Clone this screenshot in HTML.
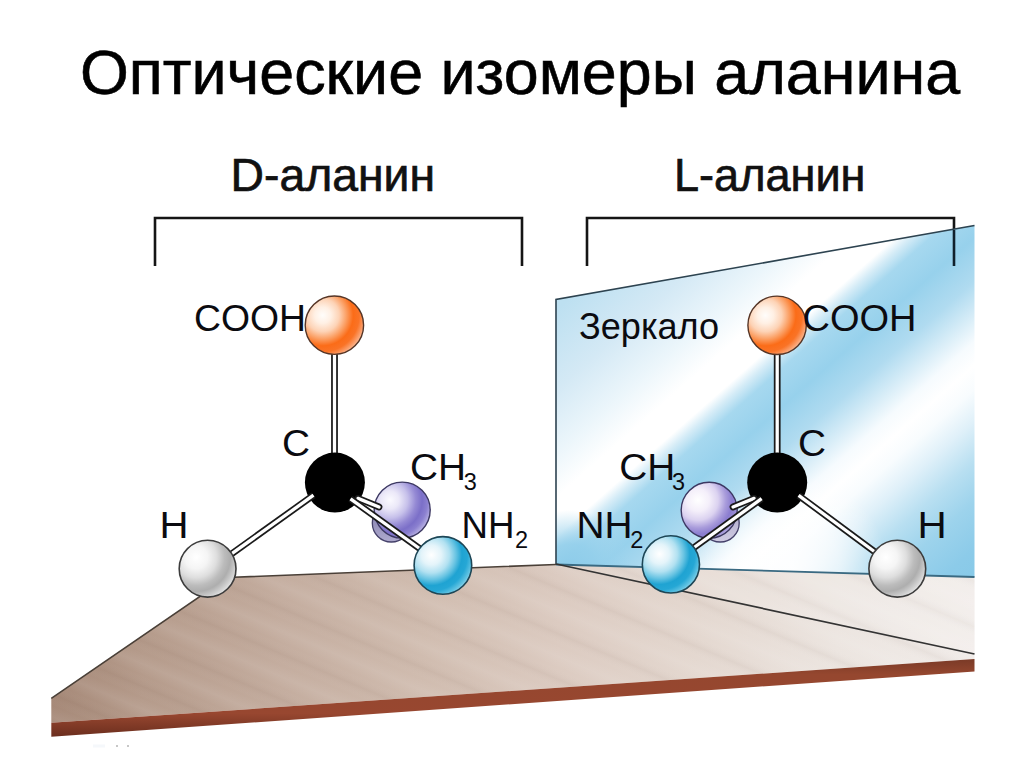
<!DOCTYPE html>
<html lang="ru"><head><meta charset="utf-8"><title>Оптические изомеры аланина</title>
<style>
html,body{margin:0;padding:0;background:#fff;}
body{width:1024px;height:767px;overflow:hidden;position:relative;font-family:"Liberation Sans",sans-serif;}
svg{position:absolute;left:0;top:0;display:block;}
text{font-family:"Liberation Sans",sans-serif;}
.lbl{font-size:36.5px;fill:#0b0b10;}
.sub{font-size:23.5px;fill:#0b0b10;}
.hd{font-size:47px;fill:#111;stroke:#111;stroke-width:0.7px;}
</style></head><body>
<svg width="1024" height="767" viewBox="0 0 1024 767">
<defs>
  <linearGradient id="gMirror" gradientUnits="userSpaceOnUse" x1="396.4" y1="450.4" x2="792.7" y2="900.8">
    <stop offset="0" stop-color="#bde0f1"/>
    <stop offset="0.10" stop-color="#d4e9f5"/>
    <stop offset="0.18" stop-color="#ecf6fb"/>
    <stop offset="0.235" stop-color="#ffffff"/>
    <stop offset="0.283" stop-color="#ffffff"/>
    <stop offset="0.300" stop-color="#d5ecf7"/>
    <stop offset="0.322" stop-color="#a6d8ef"/>
    <stop offset="0.37" stop-color="#97d1ec"/>
    <stop offset="0.425" stop-color="#b0dbf0"/>
    <stop offset="0.47" stop-color="#daeef8"/>
    <stop offset="0.50" stop-color="#f6fbfe"/>
    <stop offset="0.53" stop-color="#ffffff"/>
    <stop offset="0.56" stop-color="#f8fcfe"/>
    <stop offset="0.60" stop-color="#dff0f9"/>
    <stop offset="0.65" stop-color="#b8dff1"/>
    <stop offset="0.70" stop-color="#9dd3ec"/>
    <stop offset="0.76" stop-color="#8ccbe9"/>
    <stop offset="0.82" stop-color="#85c9e7"/>
  </linearGradient>
  <radialGradient id="gGlow" gradientUnits="userSpaceOnUse" cx="792" cy="568" r="95">
    <stop offset="0" stop-color="#fff" stop-opacity="0.9"/>
    <stop offset="0.5" stop-color="#fff" stop-opacity="0.6"/>
    <stop offset="1" stop-color="#fff" stop-opacity="0"/>
  </radialGradient>
  <radialGradient id="gCorner" gradientUnits="userSpaceOnUse" cx="570" cy="572" r="62">
    <stop offset="0" stop-color="#8ccbe9" stop-opacity="1"/>
    <stop offset="0.45" stop-color="#93cfeb" stop-opacity="0.9"/>
    <stop offset="1" stop-color="#9dd3ec" stop-opacity="0"/>
  </radialGradient>
  <linearGradient id="gFloor" gradientUnits="userSpaceOnUse" x1="51" y1="0" x2="975" y2="0">
    <stop offset="0" stop-color="#a68978"/>
    <stop offset="0.1" stop-color="#b59b8b"/>
    <stop offset="0.25" stop-color="#c4ad9f"/>
    <stop offset="0.4" stop-color="#d0bcaf"/>
    <stop offset="0.55" stop-color="#dccbc1"/>
    <stop offset="0.7" stop-color="#e4d8d0"/>
    <stop offset="0.85" stop-color="#ece5e0"/>
    <stop offset="1" stop-color="#f1ece9"/>
  </linearGradient>
  <linearGradient id="gStripes" gradientUnits="userSpaceOnUse" x1="0" y1="0" x2="-16.3" y2="38.7" spreadMethod="repeat">
    <stop offset="0" stop-color="#fff" stop-opacity="0"/>
    <stop offset="0.25" stop-color="#fff" stop-opacity="0.08"/>
    <stop offset="0.5" stop-color="#fff" stop-opacity="0"/>
    <stop offset="0.75" stop-color="#5a3a2a" stop-opacity="0.05"/>
    <stop offset="1" stop-color="#fff" stop-opacity="0"/>
  </linearGradient>
  <linearGradient id="gEdge" x1="0" y1="0" x2="0" y2="1">
    <stop offset="0" stop-color="#7a3a27"/>
    <stop offset="0.2" stop-color="#95472f"/>
    <stop offset="0.7" stop-color="#984730"/>
    <stop offset="1" stop-color="#6b2e1e"/>
  </linearGradient>
  <radialGradient id="gOrange" cx="0.30" cy="0.33" r="0.78">
    <stop offset="0" stop-color="#fffdfb"/>
    <stop offset="0.18" stop-color="#fff0e4"/>
    <stop offset="0.36" stop-color="#fdd3b6"/>
    <stop offset="0.53" stop-color="#fb9c5f"/>
    <stop offset="0.67" stop-color="#fb6c18"/>
    <stop offset="0.8" stop-color="#fa7326"/>
    <stop offset="0.92" stop-color="#fba271"/>
    <stop offset="1" stop-color="#fcc4a2"/>
  </radialGradient>
  <radialGradient id="gCyan" cx="0.30" cy="0.32" r="0.78">
    <stop offset="0" stop-color="#ffffff"/>
    <stop offset="0.22" stop-color="#e4f4fa"/>
    <stop offset="0.4" stop-color="#b2e1f1"/>
    <stop offset="0.55" stop-color="#66c3e2"/>
    <stop offset="0.68" stop-color="#1fa3d2"/>
    <stop offset="0.8" stop-color="#25a7d5"/>
    <stop offset="0.92" stop-color="#5fc2e2"/>
    <stop offset="1" stop-color="#93d7ed"/>
  </radialGradient>
  <radialGradient id="gWhite" cx="0.30" cy="0.30" r="0.8">
    <stop offset="0" stop-color="#ffffff"/>
    <stop offset="0.25" stop-color="#f5f5f5"/>
    <stop offset="0.45" stop-color="#dedede"/>
    <stop offset="0.62" stop-color="#bcbcbc"/>
    <stop offset="0.75" stop-color="#aeaeae"/>
    <stop offset="0.88" stop-color="#cdcdcd"/>
    <stop offset="1" stop-color="#ececec"/>
  </radialGradient>
  <radialGradient id="gPurpleD" cx="0.28" cy="0.32" r="0.8">
    <stop offset="0" stop-color="#fbfaff"/>
    <stop offset="0.2" stop-color="#ebe8f8"/>
    <stop offset="0.4" stop-color="#c6c0ea"/>
    <stop offset="0.58" stop-color="#958ad4"/>
    <stop offset="0.72" stop-color="#7b6fc8"/>
    <stop offset="0.84" stop-color="#8b80d0"/>
    <stop offset="1" stop-color="#c3bde8"/>
  </radialGradient>
  <radialGradient id="gPurpleL" cx="0.30" cy="0.32" r="0.8">
    <stop offset="0" stop-color="#ffffff"/>
    <stop offset="0.25" stop-color="#f4effa"/>
    <stop offset="0.45" stop-color="#dbd2f0"/>
    <stop offset="0.62" stop-color="#a99cdb"/>
    <stop offset="0.76" stop-color="#8a7ccf"/>
    <stop offset="0.88" stop-color="#9a8dd5"/>
    <stop offset="1" stop-color="#d0c9ed"/>
  </radialGradient>
  <linearGradient id="gShadowL" x1="0" y1="0" x2="0" y2="1">
    <stop offset="0" stop-color="#a9a4c8"/>
    <stop offset="1" stop-color="#cfcbe2"/>
  </linearGradient>
  <linearGradient id="gShadow" x1="0" y1="0" x2="0" y2="1">
    <stop offset="0" stop-color="#7d78a8"/>
    <stop offset="1" stop-color="#aeaace"/>
  </linearGradient>
</defs>

<text id="title" x="79.9" y="94.4" font-size="62.8" fill="#000" stroke="#000" stroke-width="0.6">Оптические изомеры аланина</text>
<text class="hd" x="230.6" y="190.6" textLength="204.5" lengthAdjust="spacingAndGlyphs">D-аланин</text>
<text class="hd" x="674" y="190.9" textLength="191.5" lengthAdjust="spacingAndGlyphs">L-аланин</text>

<!-- brackets -->
<path d="M155 266V218H522V266" fill="none" stroke="#151515" stroke-width="2.6"/>
<path d="M587 266V218H954V266" fill="none" stroke="#151515" stroke-width="2.6"/>

<!-- mirror -->
<path d="M556 299.5L974.5 225.5V577L556 564.5Z" fill="url(#gMirror)"/>
<path d="M556 299.5L974.5 225.5V577L556 564.5Z" fill="url(#gGlow)"/>
<path d="M556 299.5L974.5 225.5V577L556 564.5Z" fill="url(#gCorner)"/>
<path d="M556 564.5V299.5L974.5 225.5" fill="none" stroke="#2d4350" stroke-width="1.6"/>
<path d="M954 230V266" fill="none" stroke="#10202c" stroke-width="2.6"/>

<!-- floor -->
<path d="M51.3 698.3L227.5 577.5L556 564.5L974.5 577V659L51.3 722.8Z" fill="url(#gFloor)"/>
<path d="M51.3 698.3L227.5 577.5L556 564.5L974.5 577V659L51.3 722.8Z" fill="url(#gStripes)"/>
<path d="M556 564L974.5 577V654Z" fill="#fff" fill-opacity="0.15"/>
<path d="M51.3 722.8L974.5 659V671.5L51.3 736.7Z" fill="url(#gEdge)"/>
<path d="M51.3 698.3L227.5 577.5L556 564.5" fill="none" stroke="#4a4038" stroke-width="1.6"/>
<path d="M556 564.5L974.5 577" fill="none" stroke="#3a6a82" stroke-width="1.8"/>
<path d="M556 564L974.5 654" fill="none" stroke="#333" stroke-width="1.7"/>

<circle cx="117" cy="746" r="1" fill="#b5b5b5"/><circle cx="128" cy="746" r="1" fill="#b5b5b5"/><rect x="93" y="744.5" width="12" height="3" fill="#f5f8fb"/>
<!-- D molecule -->
<g id="molD">
  <path d="M334.5 350V455" stroke="#1a1a1a" stroke-width="6.8"/><path d="M334.5 350V455" stroke="#fff" stroke-width="3.3"/>
  <circle cx="391.3" cy="523" r="19" fill="url(#gShadow)" stroke="#45416a" stroke-width="1.3"/>
  <circle cx="402.2" cy="510.1" r="28" fill="url(#gPurpleD)" stroke="#3c3862" stroke-width="1.4"/>
  <circle cx="334.9" cy="482.6" r="30" fill="#000"/>
  <path d="M313.5 495.2L229 555.7" stroke="#1a1a1a" stroke-width="6.8"/><path d="M313.5 495.2L229 555.7" stroke="#fff" stroke-width="3.3"/>
  <path d="M358 498.4L379 507" stroke="#1a1a1a" stroke-width="6.8" stroke-linecap="round"/><path d="M358 498.4L379 507" stroke="#fff" stroke-width="3.3" stroke-linecap="round"/>
  <path d="M350.5 498.8L421 549.5" stroke="#1a1a1a" stroke-width="6.8"/><path d="M350.5 498.8L421 549.5" stroke="#fff" stroke-width="3.3"/>
  <circle cx="334.4" cy="325.2" r="29.2" fill="url(#gOrange)" stroke="#553526" stroke-width="1.4"/>
  <circle cx="207.6" cy="568.7" r="28.4" fill="url(#gWhite)" stroke="#3c3c3c" stroke-width="1.6"/>
  <circle cx="442.9" cy="565.4" r="28.8" fill="url(#gCyan)" stroke="#1d4656" stroke-width="1.6"/>
</g>

<!-- L molecule -->
<g id="molL">
  <path d="M777.2 350V455" stroke="#1a1a1a" stroke-width="6.8"/><path d="M777.2 350V455" stroke="#fff" stroke-width="3.3"/>
  <circle cx="720.2" cy="523" r="19" fill="url(#gShadowL)" stroke="#45416a" stroke-width="1.3"/>
  <circle cx="709.2" cy="510.2" r="28" fill="url(#gPurpleL)" stroke="#3c3862" stroke-width="1.4"/>
  <circle cx="777.2" cy="482.6" r="30" fill="#000"/>
  <path d="M798.6 495.4L875 552" stroke="#1a1a1a" stroke-width="6.8"/><path d="M798.6 495.4L875 552" stroke="#fff" stroke-width="3.3"/>
  <path d="M754.1 498.4L733 507" stroke="#1a1a1a" stroke-width="6.8" stroke-linecap="round"/><path d="M754.1 498.4L733 507" stroke="#fff" stroke-width="3.3" stroke-linecap="round"/>
  <path d="M761.6 498.7L692 549" stroke="#1a1a1a" stroke-width="6.8"/><path d="M761.6 498.7L692 549" stroke="#fff" stroke-width="3.3"/>
  <circle cx="777.1" cy="325.3" r="29.2" fill="url(#gOrange)" stroke="#553526" stroke-width="1.4"/>
  <circle cx="897.3" cy="568.7" r="28.4" fill="url(#gWhite)" stroke="#3c3c3c" stroke-width="1.6"/>
  <circle cx="670.9" cy="564.4" r="28.6" fill="url(#gCyan)" stroke="#1d4656" stroke-width="1.6"/>
</g>

<!-- labels -->
<text class="lbl" x="194" y="331.4" textLength="112" lengthAdjust="spacingAndGlyphs">COOH</text>
<text class="lbl" x="802.5" y="331.4" textLength="114" lengthAdjust="spacingAndGlyphs">COOH</text>
<text class="lbl" x="282" y="455.6" textLength="28" lengthAdjust="spacingAndGlyphs">C</text>
<text class="lbl" x="798" y="455.6" textLength="28" lengthAdjust="spacingAndGlyphs">C</text>
<text class="lbl" x="159.6" y="538" textLength="29" lengthAdjust="spacingAndGlyphs">H</text>
<text class="lbl" x="917.6" y="538" textLength="29.2" lengthAdjust="spacingAndGlyphs">H</text>
<text class="lbl" x="410" y="479.7" textLength="56" lengthAdjust="spacingAndGlyphs">CH</text>
<text class="sub" x="463.8" y="489.8">3</text>
<text class="lbl" x="461.5" y="537.8" textLength="53" lengthAdjust="spacingAndGlyphs">NH</text>
<text class="sub" x="515" y="548">2</text>
<text class="lbl" x="619.3" y="479.7" textLength="56" lengthAdjust="spacingAndGlyphs">CH</text>
<text class="sub" x="672" y="489.6">3</text>
<text class="lbl" x="576.5" y="537.8" textLength="56" lengthAdjust="spacingAndGlyphs">NH</text>
<text class="sub" x="630.3" y="548">2</text>
<text class="lbl" style="font-size:36px" x="579" y="338.6" textLength="140" lengthAdjust="spacingAndGlyphs">Зеркало</text>
</svg>
</body></html>
